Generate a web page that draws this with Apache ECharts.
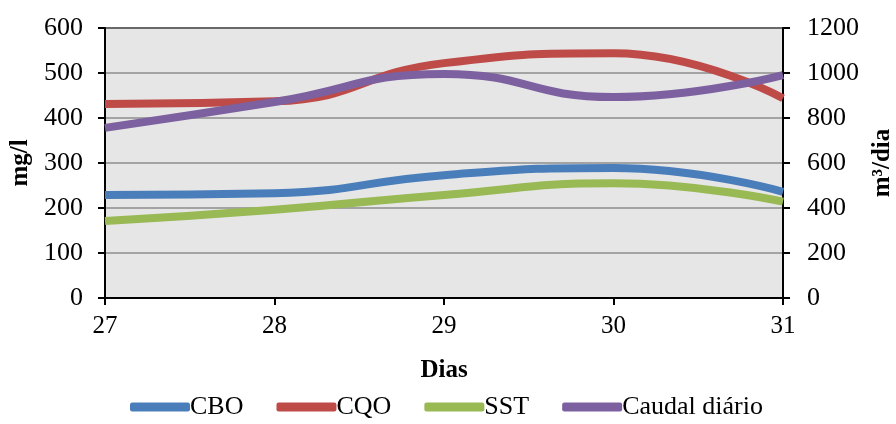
<!DOCTYPE html>
<html>
<head>
<meta charset="utf-8">
<script src="https://cdn.jsdelivr.net/npm/echarts@6/dist/echarts.min.js"></script>
<style>
  html, body { margin: 0; padding: 0; background: #fff; }
  #chart { width: 896px; height: 424px; }
</style>
</head>
<body>
<div id="chart"></div>
<script>
// dias
const dias = ['27', '28', '29', '30', '31']
// mg/l
const cbo = [229, 233, 273, 289, 236]
const cqo = [431, 437, 522, 544, 444]
const sst = [171, 196, 229, 255, 214]
// m3/dia (eixo direito)
const caudal = [756, 871, 996, 893, 991]

const font = "'Liberation Serif', 'Times New Roman', serif"
const chart = echarts.init(document.getElementById('chart'))

function linha (name, data, color, yIndex) {
  return {
    name: name,
    type: 'line',
    yAxisIndex: yIndex,
    data: data,
    smooth: 0.5,
    symbol: 'none',
    lineStyle: { color: color, width: 8, cap: 'butt' },
    itemStyle: { color: color }
  }
}

chart.setOption({
  animation: false,
  textStyle: { fontFamily: font },
  grid: {
    left: 105,
    right: 113,
    top: 28,
    bottom: 126,
    outerBoundsMode: 'none',
    containLabel: false,
    show: true,
    backgroundColor: '#e6e6e6',
    borderColor: '#000',
    borderWidth: 2
  },
  legend: {
    top: 394,
    left: 130,
    icon: 'roundRect',
    itemWidth: 60,
    itemHeight: 9,
    itemGap: 33,
    padding: 0,
    textStyle: { fontFamily: font, fontSize: 26, color: '#000', padding: [0, 0, 0, -5] },
    data: ['CBO', 'CQO', 'SST', 'Caudal diário']
  },
  xAxis: {
    type: 'category',
    data: dias,
    boundaryGap: false,
    name: 'Dias',
    nameLocation: 'middle',
    nameGap: 60,
    nameTextStyle: { fontFamily: font, fontSize: 25, fontWeight: 'bold', color: '#000' },
    axisLine: { lineStyle: { color: '#000', width: 2 } },
    axisTick: { show: true, length: 7, alignWithLabel: true, lineStyle: { color: '#000', width: 2 } },
    axisLabel: { fontFamily: font, fontSize: 25, color: '#000', margin: 16 },
    splitLine: { show: false }
  },
  yAxis: [
    {
      type: 'value',
      min: 0,
      max: 600,
      interval: 100,
      name: 'mg/l',
      nameLocation: 'middle',
      nameRotate: 90,
      nameGap: 70,
      nameTextStyle: { fontFamily: font, fontSize: 25, fontWeight: 'bold', color: '#000' },
      axisLine: { show: true, lineStyle: { color: '#000', width: 2 } },
      axisTick: { show: true, length: 7, lineStyle: { color: '#000', width: 2 } },
      axisLabel: { fontFamily: font, fontSize: 26, color: '#000', margin: 22 },
      splitLine: { show: true, lineStyle: { color: '#8c8c8c', width: 1.5 } }
    },
    {
      type: 'value',
      min: 0,
      max: 1200,
      interval: 200,
      name: 'm³/dia',
      nameLocation: 'middle',
      nameRotate: 90,
      nameGap: 86,
      nameTextStyle: { fontFamily: font, fontSize: 25, fontWeight: 'bold', color: '#000' },
      axisLine: { show: true, lineStyle: { color: '#000', width: 2 } },
      axisTick: { show: true, length: 7, lineStyle: { color: '#000', width: 2 } },
      axisLabel: { fontFamily: font, fontSize: 26, color: '#000', margin: 24, formatter: v => String(v) },
      splitLine: { show: false }
    }
  ],
  series: [
    linha('CBO', cbo, '#4a7ebb', 0),
    linha('CQO', cqo, '#be4b48', 0),
    linha('SST', sst, '#98b954', 0),
    linha('Caudal diário', caudal, '#7d60a0', 1)
  ]
})
</script>
</body>
</html>
